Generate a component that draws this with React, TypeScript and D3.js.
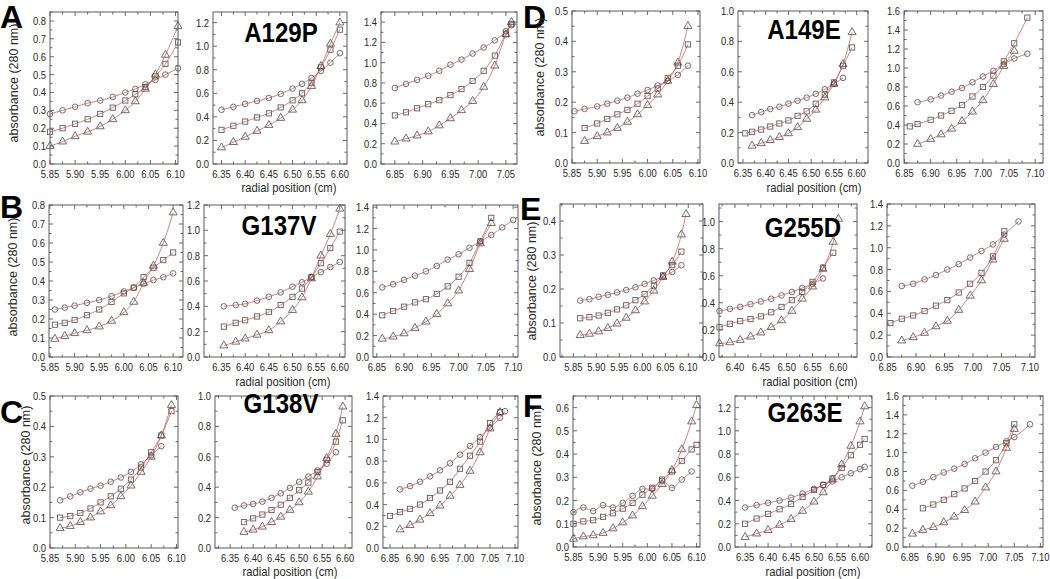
import React from 'react';
import * as d3 from 'd3';

// ---------- DATA (radial position cm, absorbance 280 nm) ----------
// c = circles, s = squares, t = triangles
const xA1 = [5.85, 5.875, 5.9, 5.925, 5.95, 5.975, 6.0, 6.02, 6.04, 6.06, 6.08, 6.105];
const cA1 = [0.28, 0.3, 0.32, 0.34, 0.355, 0.375, 0.4, 0.42, 0.445, 0.47, 0.5, 0.535];
const sA1 = [0.18, 0.2, 0.225, 0.25, 0.28, 0.315, 0.355, 0.39, 0.43, 0.49, 0.56, 0.68];
const tA1 = [0.1, 0.125, 0.155, 0.18, 0.21, 0.25, 0.3, 0.35, 0.42, 0.5, 0.61, 0.77];

const xA2 = [6.35, 6.375, 6.4, 6.425, 6.45, 6.475, 6.5, 6.52, 6.54, 6.56, 6.58, 6.6];
const cA2 = [0.46, 0.485, 0.51, 0.535, 0.56, 0.595, 0.64, 0.68, 0.73, 0.79, 0.86, 0.94];
const sA2 = [0.29, 0.325, 0.36, 0.395, 0.43, 0.48, 0.54, 0.6, 0.69, 0.82, 0.97, 1.14];
const tA2 = [0.14, 0.185, 0.23, 0.28, 0.33, 0.39, 0.46, 0.54, 0.66, 0.83, 1.02, 1.2];

const xA3 = [6.85, 6.87, 6.89, 6.91, 6.93, 6.95, 6.97, 6.99, 7.01, 7.03, 7.05, 7.06];
const cA3 = [0.75, 0.79, 0.83, 0.87, 0.92, 0.98, 1.03, 1.09, 1.15, 1.22, 1.31, 1.37];
const sA3 = [0.48, 0.51, 0.55, 0.59, 0.63, 0.68, 0.74, 0.82, 0.92, 1.07, 1.28, 1.38];
const tA3 = [0.22, 0.25, 0.28, 0.32, 0.38, 0.45, 0.53, 0.62, 0.76, 0.97, 1.28, 1.4];

const xB1 = [5.86, 5.88, 5.9, 5.925, 5.95, 5.975, 6.0, 6.02, 6.04, 6.06, 6.08, 6.1];
const cB1 = [0.25, 0.26, 0.27, 0.285, 0.3, 0.32, 0.345, 0.365, 0.385, 0.405, 0.42, 0.44];
const sB1 = [0.17, 0.18, 0.195, 0.22, 0.25, 0.29, 0.335, 0.365, 0.42, 0.47, 0.51, 0.55];
const tB1 = [0.095, 0.11, 0.125, 0.14, 0.16, 0.19, 0.235, 0.29, 0.39, 0.48, 0.6, 0.76];

const xB2 = [6.355, 6.38, 6.4, 6.425, 6.45, 6.475, 6.5, 6.52, 6.54, 6.56, 6.58, 6.6];
const cB2 = [0.4, 0.41, 0.42, 0.445, 0.475, 0.51, 0.555, 0.59, 0.63, 0.67, 0.71, 0.75];
const sB2 = [0.24, 0.27, 0.29, 0.32, 0.355, 0.41, 0.475, 0.54, 0.63, 0.74, 0.86, 0.99];
const tB2 = [0.09, 0.12, 0.145, 0.175, 0.21, 0.28, 0.37, 0.47, 0.62, 0.8, 0.97, 1.17];

const xB3 = [6.86, 6.88, 6.9, 6.92, 6.94, 6.96, 6.98, 7.0, 7.02, 7.04, 7.06, 7.08, 7.1];
const cB3 = [0.65, 0.68, 0.72, 0.76, 0.8, 0.85, 0.91, 0.96, 1.02, 1.08, 1.14, 1.21, 1.28];
const sB3 = [0.39, 0.43, 0.47, 0.51, 0.54, 0.59, 0.66, 0.75, 0.88, 1.08, 1.3, null, null];
const tB3 = [0.17, 0.19, 0.22, 0.27, 0.33, 0.4, 0.5, 0.62, 0.82, 1.06, 1.25, null, null];

const xC1 = [5.87, 5.89, 5.91, 5.93, 5.95, 5.97, 5.99, 6.01, 6.03, 6.05, 6.07, 6.09];
const cC1 = [0.157, 0.17, 0.183, 0.195, 0.205, 0.218, 0.232, 0.25, 0.275, 0.305, 0.335, null];
const sC1 = [0.1, 0.105, 0.115, 0.13, 0.15, 0.17, 0.195, 0.225, 0.265, 0.315, 0.37, 0.45];
const tC1 = [0.065, 0.072, 0.085, 0.1, 0.12, 0.14, 0.17, 0.205, 0.25, 0.3, 0.37, 0.47];

const xC2 = [6.36, 6.38, 6.4, 6.42, 6.44, 6.46, 6.48, 6.5, 6.52, 6.54, 6.56, 6.58, 6.595];
const cC2 = [0.265, 0.28, 0.29, 0.305, 0.33, 0.36, 0.395, 0.435, 0.47, 0.51, 0.555, 0.63, null];
const sC2 = [null, 0.17, 0.195, 0.22, 0.25, 0.285, 0.33, 0.38, 0.43, 0.5, 0.58, 0.7, 0.84];
const tC2 = [null, 0.105, 0.12, 0.14, 0.17, 0.205, 0.25, 0.3, 0.37, 0.47, 0.59, 0.75, 0.93];

const xC3 = [6.85, 6.87, 6.89, 6.91, 6.93, 6.95, 6.97, 6.99, 7.01, 7.03, 7.05, 7.07, 7.08];
const cC3 = [null, 0.54, 0.57, 0.61, 0.66, 0.715, 0.78, 0.86, 0.94, 1.02, 1.11, 1.2, 1.26];
const sC3 = [0.295, 0.33, 0.36, 0.4, 0.46, 0.53, 0.61, 0.73, 0.85, 0.98, 1.15, 1.25, null];
const tC3 = [null, 0.17, 0.21, 0.26, 0.32, 0.39, 0.48, 0.58, 0.71, 0.88, 1.1, 1.25, null];

const xD1 = [5.855, 5.875, 5.9, 5.92, 5.94, 5.96, 5.98, 6.0, 6.02, 6.04, 6.06, 6.08];
const cD1 = [0.17, 0.178, 0.186, 0.195, 0.205, 0.215, 0.228, 0.24, 0.255, 0.27, 0.29, 0.32];
const sD1 = [null, 0.115, 0.13, 0.145, 0.16, 0.175, 0.195, 0.22, 0.245, 0.28, 0.32, 0.39];
const tD1 = [null, 0.072, 0.088, 0.1, 0.115, 0.135, 0.16, 0.19, 0.225, 0.27, 0.33, 0.45];

const xD2 = [6.355, 6.37, 6.39, 6.41, 6.43, 6.45, 6.47, 6.49, 6.51, 6.53, 6.55, 6.57, 6.59];
const cD2 = [null, 0.315, 0.335, 0.355, 0.37, 0.39, 0.41, 0.43, 0.455, 0.485, 0.52, 0.56, null];
const sD2 = [0.195, 0.205, 0.22, 0.24, 0.26, 0.28, 0.31, 0.34, 0.39, 0.45, 0.53, 0.64, 0.76];
const tD2 = [null, 0.113, 0.13, 0.15, 0.17, 0.195, 0.235, 0.29, 0.35, 0.43, 0.52, 0.65, 0.86];

const xD3 = [6.86, 6.875, 6.9, 6.92, 6.94, 6.96, 6.98, 7.0, 7.02, 7.04, 7.06, 7.085];
const cD3 = [null, 0.64, 0.67, 0.71, 0.75, 0.79, 0.85, 0.91, 0.97, 1.04, 1.1, 1.15];
const sD3 = [0.385, 0.41, 0.455, 0.5, 0.55, 0.61, 0.7, 0.8, 0.92, 1.07, 1.26, 1.53];
const tD3 = [null, 0.2, 0.25, 0.3, 0.36, 0.44, 0.54, 0.66, 0.83, 1.02, 1.18, null];

const xE1 = [5.865, 5.885, 5.905, 5.925, 5.945, 5.965, 5.985, 6.005, 6.025, 6.045, 6.065, 6.085, 6.095];
const cE1 = [0.166, 0.17, 0.177, 0.183, 0.19, 0.197, 0.205, 0.215, 0.225, 0.237, 0.25, 0.27, null];
const sE1 = [0.114, 0.117, 0.122, 0.13, 0.14, 0.152, 0.167, 0.185, 0.21, 0.24, 0.27, 0.31, null];
const tE1 = [0.064, 0.068, 0.075, 0.085, 0.098, 0.115, 0.137, 0.163, 0.195, 0.235, 0.28, 0.36, 0.42];

const xE2 = [6.37, 6.39, 6.41, 6.43, 6.45, 6.47, 6.49, 6.51, 6.53, 6.55, 6.57, 6.59, 6.6];
const cE2 = [0.34, 0.355, 0.37, 0.39, 0.41, 0.43, 0.455, 0.48, 0.51, 0.54, 0.58, null, null];
const sE2 = [0.22, 0.245, 0.265, 0.28, 0.3, 0.33, 0.37, 0.42, 0.48, 0.555, 0.66, 0.77, null];
const tE2 = [0.1, 0.108, 0.125, 0.15, 0.18, 0.22, 0.27, 0.34, 0.43, 0.52, 0.65, 0.85, 1.02];

const xE3 = [6.855, 6.875, 6.895, 6.915, 6.935, 6.955, 6.975, 6.995, 7.015, 7.035, 7.055, 7.08];
const cE3 = [null, 0.65, 0.67, 0.71, 0.75, 0.8, 0.85, 0.91, 0.97, 1.03, 1.12, 1.24];
const sE3 = [0.31, 0.35, 0.38, 0.42, 0.47, 0.52, 0.59, 0.67, 0.77, 0.92, 1.15, null];
const tE3 = [null, 0.15, 0.18, 0.22, 0.28, 0.33, 0.43, 0.56, 0.7, 0.89, 1.08, null];

const xF1 = [5.85, 5.87, 5.89, 5.91, 5.93, 5.95, 5.97, 5.99, 6.01, 6.03, 6.05, 6.07, 6.09, 6.1];
const cF1 = [0.15, 0.17, 0.155, 0.18, 0.17, 0.19, 0.22, 0.25, 0.25, 0.285, 0.255, 0.29, 0.325, null];
const sF1 = [0.1, 0.11, 0.115, 0.13, 0.145, 0.165, 0.19, 0.225, 0.255, 0.29, 0.325, 0.37, 0.42, 0.44];
const tF1 = [0.035, 0.045, 0.05, 0.06, 0.08, 0.105, 0.135, 0.175, 0.22, 0.27, 0.33, 0.42, 0.54, 0.61];

const xF2 = [6.35, 6.375, 6.4, 6.425, 6.45, 6.475, 6.5, 6.52, 6.54, 6.56, 6.58, 6.6, 6.61];
const cF2 = [0.34, 0.36, 0.38, 0.4, 0.425, 0.46, 0.5, 0.535, 0.565, 0.6, 0.635, 0.67, 0.69];
const sF2 = [0.2, 0.245, 0.285, 0.325, 0.37, 0.43, 0.49, 0.535, 0.59, 0.68, 0.79, 0.88, 0.93];
const tF2 = [0.085, 0.115, 0.145, 0.19, 0.24, 0.31, 0.39, 0.47, 0.58, 0.71, 0.87, 1.08, 1.21];

const xF3 = [6.855, 6.875, 6.895, 6.915, 6.935, 6.955, 6.975, 6.995, 7.015, 7.035, 7.05, 7.08];
const cF3 = [0.65, 0.69, 0.74, 0.79, 0.83, 0.88, 0.94, 1.0, 1.06, 1.12, 1.165, 1.3];
const sF3 = [null, 0.41, 0.45, 0.5, 0.56, 0.62, 0.7, 0.8, 0.92, 1.1, 1.3, null];
const tF3 = [0.14, 0.18, 0.21, 0.26, 0.32, 0.39, 0.48, 0.63, 0.8, 1.05, 1.25, null];

const panelLetters = ['A', 'B', 'C', 'D', 'E', 'F'];
const mutants = ['A129P', 'G137V', 'G138V', 'A149E', 'G255D', 'G263E'];
const yAxisTitle = 'absorbance (280 nm)';
const xAxisTitle = 'radial position (cm)';

// ---------- LAYOUT ----------
type Sub = {
  x: number[]; c: (number | null)[]; s: (number | null)[]; t: (number | null)[];
  box: [number, number, number, number]; xd: [number, number]; yd: [number, number]; ys: number;
};
const subs: Sub[] = [
  { x: xA1, c: cA1, s: sA1, t: tA1, box: [50, 12, 178, 164], xd: [5.85, 6.105], yd: [0, 0.85], ys: 0.1 },
  { x: xA2, c: cA2, s: sA2, t: tA2, box: [213, 12, 347, 164], xd: [6.332, 6.615], yd: [0, 1.29], ys: 0.2 },
  { x: xA3, c: cA3, s: sA3, t: tA3, box: [381, 12, 517, 164], xd: [6.825, 7.07], yd: [0, 1.5], ys: 0.2 },
  { x: xB1, c: cB1, s: sB1, t: tB1, box: [49, 205, 183, 357], xd: [5.848, 6.12], yd: [0, 0.8], ys: 0.1 },
  { x: xB2, c: cB2, s: sB2, t: tB2, box: [204, 205, 345, 357], xd: [6.313, 6.611], yd: [0, 1.2], ys: 0.2 },
  { x: xB3, c: cB3, s: sB3, t: tB3, box: [373, 205, 518, 357], xd: [6.843, 7.109], yd: [0, 1.42], ys: 0.2 },
  { x: xC1, c: cC1, s: sC1, t: tC1, box: [50, 396, 178, 548], xd: [5.85, 6.103], yd: [0, 0.5], ys: 0.1 },
  { x: xC2, c: cC2, s: sC2, t: tC2, box: [215, 396, 352, 548], xd: [6.317, 6.615], yd: [0, 1.0], ys: 0.2 },
  { x: xC3, c: cC3, s: sC3, t: tC3, box: [383, 396, 518, 548], xd: [6.836, 7.106], yd: [0, 1.4], ys: 0.2 },
  { x: xD1, c: cD1, s: sD1, t: tD1, box: [572, 11, 700, 163], xd: [5.85, 6.104], yd: [0, 0.5], ys: 0.1 },
  { x: xD2, c: cD2, s: sD2, t: tD2, box: [738, 11, 868, 163], xd: [6.339, 6.625], yd: [0, 1.0], ys: 0.2 },
  { x: xD3, c: cD3, s: sD3, t: tD3, box: [904, 11, 1043, 163], xd: [6.849, 7.115], yd: [0, 1.6], ys: 0.2 },
  { x: xE1, c: cE1, s: sE1, t: tE1, box: [560, 204, 703, 357], xd: [5.821, 6.132], yd: [0, 0.45], ys: 0.1 },
  { x: xE2, c: cE2, s: sE2, t: tE2, box: [719, 204, 857, 357], xd: [6.369, 6.636], yd: [0, 1.13], ys: 0.2 },
  { x: xE3, c: cE3, s: sE3, t: tE3, box: [887, 204, 1035, 357], xd: [6.849, 7.109], yd: [0, 1.4], ys: 0.2 },
  { x: xF1, c: cF1, s: sF1, t: tF1, box: [573, 396, 700, 547], xd: [5.849, 6.107], yd: [0, 0.65], ys: 0.1 },
  { x: xF2, c: cF2, s: sF2, t: tF2, box: [735, 396, 872, 547], xd: [6.328, 6.626], yd: [0, 1.3], ys: 0.2 },
  { x: xF3, c: cF3, s: sF3, t: tF3, box: [903, 396, 1043, 547], xd: [6.837, 7.105], yd: [0, 1.6], ys: 0.2 },
];
// per panel: letter pos, title pos, y-title center, x-title pos
const letterPos = [[0, 28], [0, 218], [0, 423], [523, 28], [520, 220], [523, 417]];
const titlePos = [[281, 42], [279, 235], [281, 413], [804, 39], [803, 237], [805, 422]];
const yTitlePos = [[14, 83], [13, 277], [26, 465], [540, 77], [532, 281], [537, 466]];
const xTitlePos = [[289, 192], [283, 386], [290, 576], [814, 192], [810, 386], [813, 576]];

const FONT = "'Liberation Sans', Arial, Helvetica, sans-serif";
const AXIS = '#5a5a5a';
const MARK = '#3f3838';
const FIT = '#b45a50';
const SX = 0.82;

function stepTicks(d0: number, d1: number, step: number) {
  const out: number[] = [];
  const a = Math.ceil(d0 / step - 1e-6);
  const b = Math.floor(d1 / step + 1e-6);
  for (let i = a; i <= b; i++) out.push(+(i * step).toFixed(4));
  return out;
}

const tri = d3.symbol().type(d3.symbolTriangle).size(28)() as string;

function Subplot({ sp }: { sp: Sub }) {
  const [l, t, r, b] = sp.box;
  const xs = d3.scaleLinear().domain(sp.xd).range([l, r]);
  const ys = d3.scaleLinear().domain(sp.yd).range([b, t]);
  const xMaj = stepTicks(sp.xd[0], sp.xd[1], 0.05);
  const xMin = stepTicks(sp.xd[0], sp.xd[1], 0.025).filter(v => !xMaj.some(m => Math.abs(m - v) < 1e-6));
  const yMaj = stepTicks(sp.yd[0], sp.yd[1], sp.ys);
  const yMin = stepTicks(sp.yd[0], sp.yd[1], sp.ys / 2).filter(v => !yMaj.some(m => Math.abs(m - v) < 1e-6));
  const series = [
    { vals: sp.c, kind: 'c' },
    { vals: sp.s, kind: 's' },
    { vals: sp.t, kind: 't' },
  ];
  const line = d3.line<[number, number | null]>()
    .defined(d => d[1] != null)
    .x(d => xs(d[0]))
    .y(d => ys(d[1] as number))
    .curve(d3.curveMonotoneX);
  return (
    <g>
      {series.map((se, si) => (
        <g key={si} fill="none" stroke={MARK} strokeWidth={0.85} opacity={0.85}>
          {sp.x.map((xv, i) => {
            const yv = se.vals[i];
            if (yv == null) return null;
            const px = xs(xv), py = ys(yv);
            if (se.kind === 'c') return <circle key={i} cx={px} cy={py} r={2.8} />;
            if (se.kind === 's') return <rect key={i} x={px - 2.6} y={py - 2.6} width={5.2} height={5.2} />;
            return <path key={i} d={tri} transform={`translate(${px},${py})`} />;
          })}
        </g>
      ))}
      {series.map((se, si) => (
        <path key={'f' + si} d={line(sp.x.map((xv, i) => [xv, se.vals[i]] as [number, number | null])) || ''}
          fill="none" stroke={FIT} strokeWidth={0.9} opacity={0.8} />
      ))}
      <rect x={l} y={t} width={r - l} height={b - t} fill="none" stroke={AXIS} strokeWidth={1} />
      <g stroke={AXIS} strokeWidth={0.9}>
        {xMaj.map((v, i) => (
          <g key={'xm' + i}>
            <line x1={xs(v)} x2={xs(v)} y1={b} y2={b - 4} />
            <line x1={xs(v)} x2={xs(v)} y1={t} y2={t + 4} />
          </g>
        ))}
        {xMin.map((v, i) => (
          <g key={'xn' + i}>
            <line x1={xs(v)} x2={xs(v)} y1={b} y2={b - 2.5} />
            <line x1={xs(v)} x2={xs(v)} y1={t} y2={t + 2.5} />
          </g>
        ))}
        {yMaj.map((v, i) => (
          <g key={'ym' + i}>
            <line x1={l} x2={l + 4} y1={ys(v)} y2={ys(v)} />
            <line x1={r} x2={r - 4} y1={ys(v)} y2={ys(v)} />
          </g>
        ))}
        {yMin.map((v, i) => (
          <g key={'yn' + i}>
            <line x1={l} x2={l + 2.5} y1={ys(v)} y2={ys(v)} />
            <line x1={r} x2={r - 2.5} y1={ys(v)} y2={ys(v)} />
          </g>
        ))}
      </g>
      <g fontFamily={FONT} fontSize={11.5} fill="#2a2a2a">
        {xMaj.map((v, i) => (
          <text key={'xl' + i} transform={`translate(${xs(v)},${b + 14}) scale(${SX},1)`} textAnchor="middle">
            {v.toFixed(2)}
          </text>
        ))}
        {yMaj.map((v, i) => (
          <text key={'yl' + i} transform={`translate(${l - 4},${ys(v) + 4}) scale(${SX},1)`} textAnchor="end">
            {v.toFixed(1)}
          </text>
        ))}
      </g>
    </g>
  );
}

export default function App() {
  return (
    <svg width={1050} height={579} viewBox="0 0 1050 579"
      style={{ position: 'absolute', left: 0, top: 0, background: '#fff' }}>
      <rect x={0} y={0} width={1050} height={579} fill="#fff" />
      {subs.map((sp, i) => <Subplot key={i} sp={sp} />)}
      {panelLetters.map((L, i) => (
        <text key={L} x={letterPos[i][0]} y={letterPos[i][1]} fontFamily={FONT} fontWeight="bold"
          fontSize={32} fill="#000">{L}</text>
      ))}
      {mutants.map((m, i) => (
        <text key={m} transform={`translate(${titlePos[i][0]},${titlePos[i][1]}) scale(0.86,1)`}
          textAnchor="middle" fontFamily={FONT} fontWeight="bold" fontSize={28} fill="#000">{m}</text>
      ))}
      {yTitlePos.map((p, i) => (
        <text key={'yt' + i} transform={`translate(${p[0] + 4},${p[1]}) rotate(-90)`} textAnchor="middle"
          fontFamily={FONT} fontSize={12.5} fill="#2a2a2a">{yAxisTitle}</text>
      ))}
      {xTitlePos.map((p, i) => (
        <text key={'xt' + i} transform={`translate(${p[0]},${p[1]}) scale(0.9,1)`} textAnchor="middle"
          fontFamily={FONT} fontSize={12.5} fill="#2a2a2a">{xAxisTitle}</text>
      ))}
    </svg>
  );
}
